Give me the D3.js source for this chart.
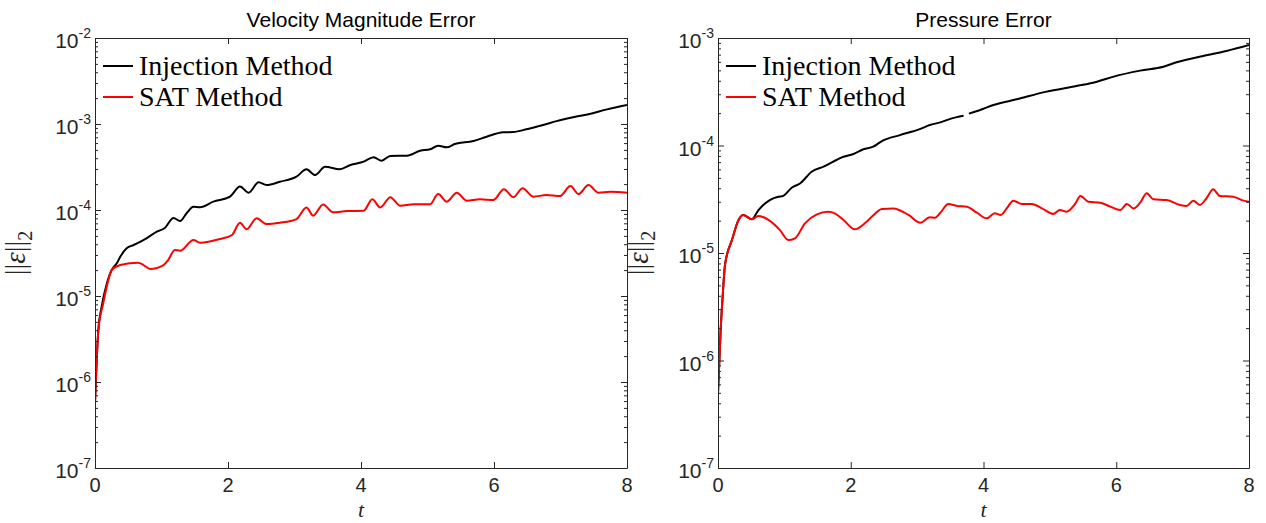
<!DOCTYPE html>
<html>
<head>
<meta charset="utf-8">
<script src="https://cdn.jsdelivr.net/npm/d3@7"></script>
<style>
  html, body { margin: 0; padding: 0; background: #fff; }
  svg { display: block; }
</style>
</head>
<body>
<svg id="chart" width="1266" height="523"></svg>
<script>
// ---------------- DATA ----------------
const seriesNames = ["Injection Method", "SAT Method"];
const seriesColors = ["#000000", "#ff0000"];
const panelTitles = ["Velocity Magnitude Error", "Pressure Error"];
const xTickValues = [0, 2, 4, 6, 8];
const velYExponents = [-7, -6, -5, -4, -3, -2];
const presYExponents = [-7, -6, -5, -4, -3];

const tVelInj = [0,0.05,0.10,0.18,0.25,0.33,0.38,0.48,0.58,0.78,0.93,1.05,1.18,1.28,1.38,1.48,1.58,1.78,2.03,2.18,2.31,2.46,2.58,2.78,3.03,3.18,3.31,3.46,3.68,3.84,4.04,4.19,4.31,4.44,4.69,4.89,5.04,5.16,5.29,5.41,5.69,5.89,6.14,6.29,6.49,6.74,6.94,7.19,7.44,7.70,8.0];
const velInj = [5.7e-7,4.0e-6,7.5e-6,1.42e-5,2.0e-5,2.42e-5,2.86e-5,3.61e-5,3.92e-5,4.72e-5,5.6e-5,6.18e-5,8.07e-5,7.45e-5,9.23e-5,1.09e-4,1.08e-4,1.25e-4,1.43e-4,1.87e-4,1.59e-4,2.10e-4,1.95e-4,2.13e-4,2.44e-4,2.97e-4,2.55e-4,3.18e-4,2.97e-4,3.33e-4,3.65e-4,4.10e-4,3.74e-4,4.25e-4,4.28e-4,4.89e-4,5.08e-4,5.60e-4,5.36e-4,5.85e-4,6.34e-4,7.12e-4,8.0e-4,8.07e-4,8.67e-4,9.73e-4,1.08e-3,1.20e-3,1.31e-3,1.48e-3,1.66e-3];

const tVelSat = [0,0.05,0.125,0.20,0.25,0.38,0.65,0.73,0.83,1.03,1.10,1.20,1.28,1.48,1.58,1.88,2.06,2.18,2.28,2.43,2.58,2.78,3.03,3.18,3.28,3.43,3.58,3.79,4.04,4.17,4.29,4.44,4.59,4.79,5.04,5.16,5.29,5.44,5.59,5.79,5.99,6.15,6.29,6.43,6.59,6.79,6.99,7.15,7.27,7.42,7.57,7.75,8.0];
const velSat = [5.7e-7,4.0e-6,8.3e-6,1.53e-5,2.0e-5,2.29e-5,2.44e-5,2.29e-5,2.06e-5,2.29e-5,2.62e-5,3.43e-5,3.36e-5,4.48e-5,4.17e-5,4.6e-5,5.12e-5,7.11e-5,5.97e-5,8.0e-5,6.87e-5,7.11e-5,7.85e-5,1.07e-4,8.59e-5,1.16e-4,9.39e-5,9.73e-5,9.8e-5,1.33e-4,1.07e-4,1.41e-4,1.12e-4,1.17e-4,1.17e-4,1.53e-4,1.25e-4,1.59e-4,1.28e-4,1.33e-4,1.31e-4,1.74e-4,1.41e-4,1.79e-4,1.43e-4,1.49e-4,1.45e-4,1.90e-4,1.53e-4,1.95e-4,1.59e-4,1.63e-4,1.59e-4];

const tPresInj = [0,0.04,0.07,0.105,0.21,0.31,0.38,0.51,0.61,0.78,0.91,0.98,1.11,1.24,1.41,1.59,1.89,2.04,2.19,2.34,2.47,2.74,3.04,3.19,3.35,3.50,3.70,3.74,3.78,3.95,4.15,4.50,4.95,5.40,5.71,5.96,6.36,6.71,6.91,7.31,7.66,8.0];
const presInj = [4.95e-7,1.92e-6,3.92e-6,7.72e-6,1.32e-5,2.03e-5,2.26e-5,2.06e-5,2.51e-5,3.11e-5,3.34e-5,3.39e-5,4.05e-5,4.45e-5,5.7e-5,6.35e-5,7.87e-5,8.34e-5,9.23e-5,9.75e-5,1.10e-4,1.25e-4,1.42e-4,1.55e-4,1.64e-4,1.77e-4,1.89e-4,null,1.98e-4,2.14e-4,2.38e-4,2.69e-4,3.17e-4,3.57e-4,3.92e-4,4.37e-4,4.97e-4,5.41e-4,5.94e-4,6.81e-4,7.57e-4,8.6e-4];

const tPresSat = [0,0.04,0.07,0.105,0.21,0.31,0.38,0.51,0.61,0.76,0.93,1.06,1.16,1.31,1.49,1.66,1.76,1.89,2.06,2.22,2.32,2.47,2.64,2.87,3.05,3.19,3.27,3.35,3.47,3.60,3.75,3.90,4.05,4.17,4.26,4.35,4.45,4.58,4.73,4.88,5.05,5.15,5.25,5.38,5.46,5.58,5.76,5.91,6.06,6.16,6.26,6.36,6.46,6.56,6.76,6.96,7.06,7.16,7.26,7.36,7.46,7.56,7.76,7.92,8.0];
const presSat = [4.95e-7,1.92e-6,3.92e-6,7.72e-6,1.32e-5,2.03e-5,2.26e-5,2.06e-5,2.21e-5,2.03e-5,1.64e-5,1.32e-5,1.37e-5,1.89e-5,2.29e-5,2.42e-5,2.34e-5,2.03e-5,1.66e-5,1.91e-5,2.18e-5,2.57e-5,2.60e-5,2.26e-5,1.91e-5,2.15e-5,2.13e-5,2.37e-5,2.86e-5,2.74e-5,2.69e-5,2.37e-5,2.10e-5,2.34e-5,2.26e-5,2.60e-5,3.07e-5,2.86e-5,2.86e-5,2.60e-5,2.31e-5,2.51e-5,2.42e-5,2.86e-5,3.39e-5,3.0e-5,2.94e-5,2.70e-5,2.51e-5,2.86e-5,2.60e-5,2.94e-5,3.59e-5,3.16e-5,3.11e-5,2.80e-5,2.74e-5,3.07e-5,2.80e-5,3.23e-5,3.92e-5,3.39e-5,3.34e-5,3.07e-5,3.0e-5];

// ---------------- DRAW ----------------
const svg = d3.select("#chart");
const axisColor = "#262626";
const sansFont = "'Liberation Sans', Arial, Helvetica, sans-serif";
const serifFont = "'Liberation Serif', 'Times New Roman', serif";

const panels = [
  { left: 95, right: 627, title: panelTitles[0], exps: velYExponents,
    series: [[tVelInj, velInj], [tVelSat, velSat]] },
  { left: 718, right: 1249, title: panelTitles[1], exps: presYExponents,
    series: [[tPresInj, presInj], [tPresSat, presSat]] }
];
const plotTop = 38, plotBottom = 468;

panels.forEach(p => {
  const g = svg.append("g");
  const x = d3.scaleLinear().domain([0, 8]).range([p.left, p.right]);
  const yMin = Math.pow(10, d3.min(p.exps)), yMax = Math.pow(10, d3.max(p.exps));
  const y = d3.scaleLog().domain([yMin, yMax]).range([plotBottom, plotTop]);

  const majors = p.exps.map(e => Math.pow(10, e));
  const minors = [];
  for (let e = d3.min(p.exps); e < d3.max(p.exps); e++) {
    for (let m = 2; m <= 9; m++) minors.push(m * Math.pow(10, e));
  }

  // lines
  const line = d3.line()
    .defined(d => d[1] != null)
    .x(d => x(d[0])).y(d => y(d[1]))
    .curve(d3.curveMonotoneX);
  const clipId = "clip" + p.left;
  svg.append("clipPath").attr("id", clipId).append("rect")
    .attr("x", p.left).attr("y", plotTop).attr("width", p.right - p.left).attr("height", plotBottom - plotTop);
  p.series.forEach((s, i) => {
    const pts = s[0].map((t, k) => [t, s[1][k]]);
    g.append("path").datum(pts)
      .attr("d", line)
      .attr("fill", "none")
      .attr("stroke", seriesColors[i])
      .attr("stroke-width", 2)
      .attr("stroke-linejoin", "round")
      .attr("clip-path", `url(#${clipId})`);
  });

  // axes (ticks inside, box)
  const mk = (axis, tr) => {
    const a = g.append("g").attr("transform", tr).call(axis);
    a.selectAll("path").attr("stroke", axisColor).attr("stroke-width", 1);
    a.selectAll("line").attr("stroke", axisColor).attr("stroke-width", 1);
    a.selectAll("text").remove();
    return a;
  };
  mk(d3.axisBottom(x).tickValues(xTickValues).tickSizeInner(-6).tickSizeOuter(0).tickFormat(""), `translate(0,${plotBottom})`);
  mk(d3.axisTop(x).tickValues(xTickValues).tickSizeInner(-6).tickSizeOuter(0).tickFormat(""), `translate(0,${plotTop})`);
  mk(d3.axisLeft(y).tickValues(majors).tickSizeInner(-6).tickSizeOuter(0).tickFormat(""), `translate(${p.left},0)`);
  mk(d3.axisRight(y).tickValues(majors).tickSizeInner(-6).tickSizeOuter(0).tickFormat(""), `translate(${p.right},0)`);
  mk(d3.axisLeft(y).tickValues(minors).tickSizeInner(-3).tickSizeOuter(0).tickFormat(""), `translate(${p.left},0)`).select("path").remove();
  mk(d3.axisRight(y).tickValues(minors).tickSizeInner(-3).tickSizeOuter(0).tickFormat(""), `translate(${p.right},0)`).select("path").remove();

  // x tick labels
  g.selectAll(".xl").data(xTickValues).enter().append("text")
    .attr("x", d => x(d)).attr("y", plotBottom + 24)
    .attr("text-anchor", "middle")
    .attr("font-family", sansFont).attr("font-size", 20).attr("fill", axisColor)
    .text(d => d);

  // y tick labels 10^e
  p.exps.forEach(e => {
    const t = g.append("text")
      .attr("x", p.left - 4).attr("y", y(Math.pow(10, e)) + 10)
      .attr("text-anchor", "end")
      .attr("font-family", sansFont).attr("font-size", 21).attr("fill", axisColor);
    t.append("tspan").text("10");
    t.append("tspan").attr("dy", -10).attr("font-size", 14).text(String(e));
  });

  // title
  g.append("text").attr("x", (p.left + p.right) / 2).attr("y", 27)
    .attr("text-anchor", "middle")
    .attr("font-family", sansFont).attr("font-size", 21).attr("fill", "#000")
    .text(p.title);

  // x label
  g.append("text").attr("x", (p.left + p.right) / 2).attr("y", 517)
    .attr("text-anchor", "middle")
    .attr("font-family", serifFont).attr("font-style", "italic")
    .attr("font-size", 22).attr("fill", axisColor)
    .text("t");

  // y label
  const yl = g.append("text")
    .attr("transform", `translate(${p.left - 70},${(plotTop + plotBottom) / 2}) rotate(-90)`)
    .attr("text-anchor", "middle")
    .attr("font-family", serifFont).attr("font-size", 29).attr("fill", axisColor);
  yl.append("tspan").text("||");
  yl.append("tspan").attr("font-style", "italic").text("ε");
  yl.append("tspan").text("||");
  yl.append("tspan").attr("dy", 7).attr("font-size", 20).text("2");

  // legend
  seriesNames.forEach((name, i) => {
    const ly = 66 + i * 31;
    g.append("line")
      .attr("x1", p.left + 8).attr("x2", p.left + 38)
      .attr("y1", ly).attr("y2", ly)
      .attr("stroke", seriesColors[i]).attr("stroke-width", 2);
    g.append("text")
      .attr("x", p.left + 44).attr("y", ly + 9)
      .attr("font-family", serifFont).attr("font-size", 28).attr("fill", "#000")
      .text(name);
  });
});
</script>
</body>
</html>
